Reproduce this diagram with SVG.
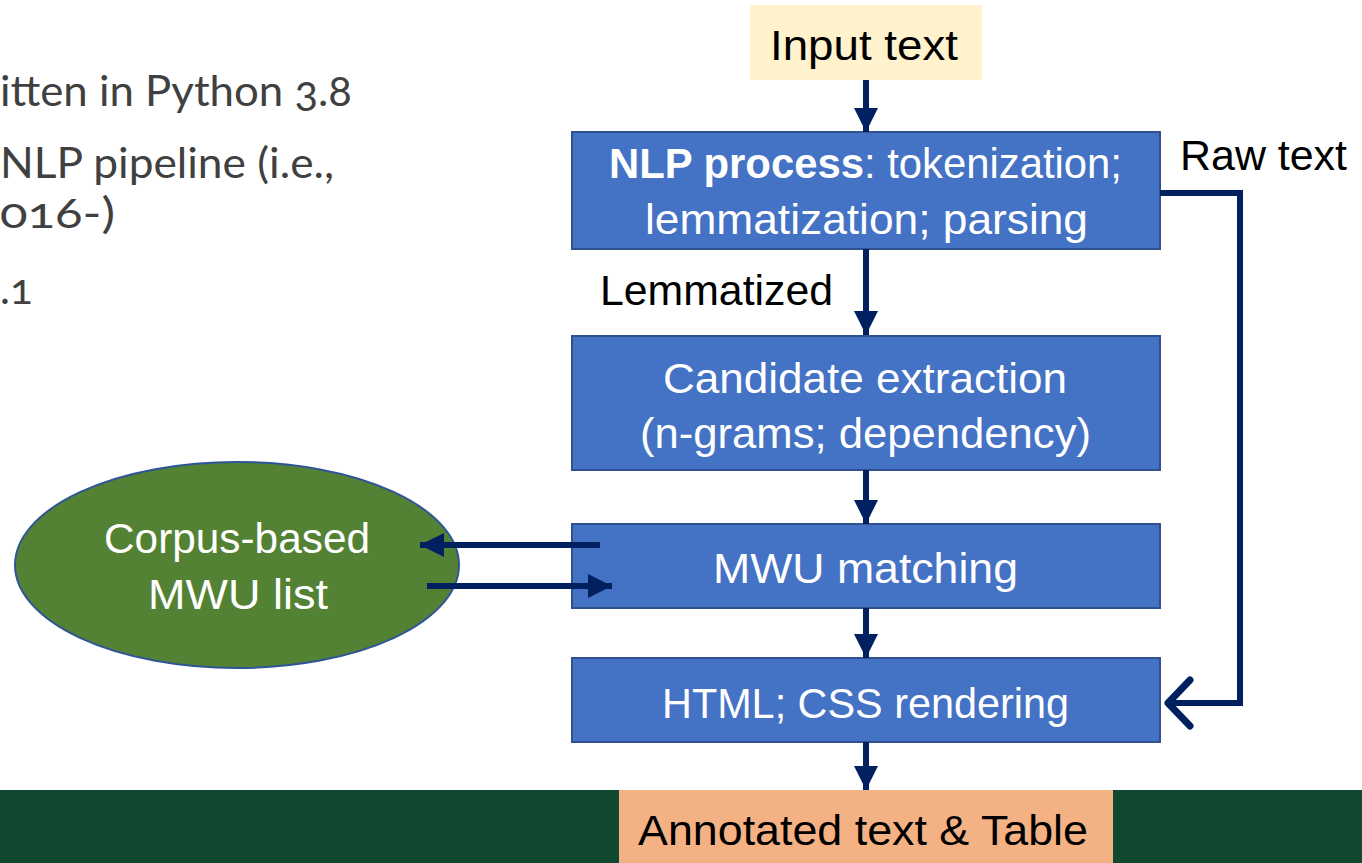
<svg xmlns="http://www.w3.org/2000/svg" width="1362" height="863" viewBox="0 0 1362 863">
  <defs>
    <style>
      .dia { font-family: "Liberation Sans", Arial, sans-serif; font-size: 42px; }
      .w { fill: #ffffff; }
      .k { fill: #000000; }
      .side { font-family: Lato, "Open Sans", sans-serif; font-size: 42px; fill: #404040; font-variant-numeric: oldstyle-nums; }
      .box { fill: #4472C4; stroke: #2F528F; stroke-width: 2; }
      .link { stroke: #002060; stroke-width: 6; fill: none; }
    </style>
    <marker id="head" viewBox="0 0 10 10" refX="10" refY="5" markerWidth="4" markerHeight="4" markerUnits="strokeWidth" orient="auto">
      <path d="M0,0 L10,5 L0,10 z" fill="#002060"/>
    </marker>
  </defs>

  <rect x="0" y="0" width="1362" height="863" fill="#ffffff"/>

  <!-- side notes, running in from the left edge -->
  <g id="notes">
    <text class="side" x="0" y="106" textLength="352" lengthAdjust="spacingAndGlyphs">itten in Python 3.8</text>
    <text class="side" x="0" y="178" textLength="334" lengthAdjust="spacingAndGlyphs">NLP pipeline (i.e.,</text>
    <text class="side" x="0" y="228" textLength="115" lengthAdjust="spacingAndGlyphs">016-)</text>
    <text class="side" x="0" y="304">.1</text>
  </g>

  <!-- footer band -->
  <rect x="0" y="790" width="1362" height="73" fill="#114830"/>

  <g id="input">
    <rect x="750" y="5" width="232" height="75" fill="#FFF2CC"/>
    <text class="dia k" x="770" y="60" textLength="188" lengthAdjust="spacingAndGlyphs">Input text</text>
  </g>

  <g id="nlp">
    <rect class="box" x="572" y="132" width="588" height="117"/>
    <text class="dia w" x="609" y="178" textLength="513" lengthAdjust="spacingAndGlyphs"><tspan font-weight="bold">NLP process</tspan>: tokenization;</text>
    <text class="dia w" x="645" y="234" textLength="443" lengthAdjust="spacingAndGlyphs">lemmatization; parsing</text>
  </g>

  <g id="candidate">
    <rect class="box" x="572" y="336" width="588" height="134"/>
    <text class="dia w" x="663" y="393" textLength="404" lengthAdjust="spacingAndGlyphs">Candidate extraction</text>
    <text class="dia w" x="640" y="448" textLength="451" lengthAdjust="spacingAndGlyphs">(n-grams; dependency)</text>
  </g>

  <g id="matching">
    <rect class="box" x="572" y="524" width="588" height="84"/>
    <text class="dia w" x="713" y="583" textLength="305" lengthAdjust="spacingAndGlyphs">MWU matching</text>
  </g>

  <g id="rendering">
    <rect class="box" x="572" y="658" width="588" height="84"/>
    <text class="dia w" x="662" y="718" textLength="407" lengthAdjust="spacingAndGlyphs">HTML; CSS rendering</text>
  </g>

  <g id="mwu-list">
    <ellipse cx="237" cy="565" rx="222" ry="103" fill="#548235" stroke="#2F5597" stroke-width="2"/>
    <text class="dia w" x="104" y="553" textLength="266" lengthAdjust="spacingAndGlyphs">Corpus-based</text>
    <text class="dia w" x="148" y="609" textLength="180" lengthAdjust="spacingAndGlyphs">MWU list</text>
  </g>

  <g id="output">
    <rect x="619" y="790" width="494" height="73" fill="#F4B183"/>
    <text class="dia k" x="638" y="845" textLength="450" lengthAdjust="spacingAndGlyphs">Annotated text &amp; Table</text>
  </g>

  <!-- connectors, drawn over the nodes -->
  <g id="connectors">
    <line class="link" x1="866" y1="80" x2="866" y2="132" marker-end="url(#head)"/>
    <line class="link" x1="866" y1="249" x2="866" y2="335" marker-end="url(#head)"/>
    <line class="link" x1="866" y1="470" x2="866" y2="524" marker-end="url(#head)"/>
    <line class="link" x1="866" y1="608" x2="866" y2="658" marker-end="url(#head)"/>
    <line class="link" x1="866" y1="742" x2="866" y2="790" marker-end="url(#head)"/>
    <line class="link" x1="600" y1="545" x2="420" y2="545" marker-end="url(#head)"/>
    <line class="link" x1="427" y1="586" x2="612" y2="586" marker-end="url(#head)"/>
    <polyline class="link" points="1160,193 1240,193 1240,703 1168,703"/>
    <polyline points="1190,680 1168,703 1190,726" fill="none" stroke="#002060" stroke-width="7" stroke-linecap="round" stroke-linejoin="round"/>
    <text class="dia k" x="1180" y="170" textLength="167" lengthAdjust="spacingAndGlyphs">Raw text</text>
    <text class="dia k" x="600" y="305" textLength="233" lengthAdjust="spacingAndGlyphs">Lemmatized</text>
  </g>
</svg>
